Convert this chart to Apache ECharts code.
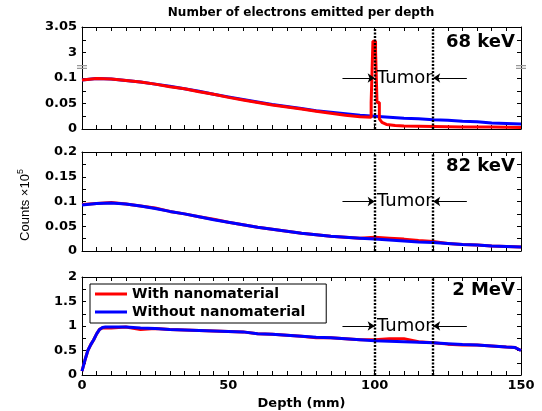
<!DOCTYPE html>
<html><head><meta charset="utf-8">
<script src="https://cdn.jsdelivr.net/npm/echarts@6/dist/echarts.min.js"></script>
<style>html,body{margin:0;padding:0;background:#fff}#c{width:542px;height:411px}</style>
</head><body><div id="c"></div>
<script>
// ---------- data ----------
const depth = [0,5,10,15,20,25,30,35,40,45,50,55,60,65,70,75,80,85,90,95,100,105,110,115,120,125,130,135,140,145,150];

// 68 keV (true values, axis is broken between ~0.12 and ~2.97)
const blue68 = [0.096,0.099,0.098,0.095,0.092,0.088,0.084,0.079,0.074,0.068,0.063,0.058,0.053,0.048,0.044,0.040,0.036,0.033,0.030,0.027,0.025,0.023,0.021,0.020,0.018,0.017,0.015,0.014,0.012,0.011,0.010];
const red68Depth = [0,5,10,15,20,25,30,35,40,45,50,55,60,65,70,75,80,85,90,95,98.8,98.8,99.4,99.4,100.3,100.3,100.8,100.8,101.6,101.6,102.5,104,107,110,120,130,140,150];
const red68 = [0.096,0.099,0.098,0.095,0.092,0.088,0.083,0.079,0.073,0.068,0.062,0.057,0.052,0.047,0.043,0.039,0.035,0.031,0.027,0.024,0.023,0.052,0.052,3.022,3.022,3.005,3.005,0.052,0.052,0.02,0.013,0.009,0.007,0.006,0.005,0.004,0.004,0.003];

// 82 keV
const blue82 = [0.093,0.096,0.097,0.095,0.091,0.086,0.080,0.075,0.069,0.063,0.058,0.053,0.048,0.044,0.040,0.036,0.033,0.030,0.028,0.026,0.024,0.022,0.020,0.018,0.017,0.015,0.013,0.012,0.010,0.009,0.008];
const red82  = [0.094,0.096,0.098,0.095,0.091,0.087,0.080,0.075,0.069,0.064,0.058,0.053,0.048,0.044,0.040,0.036,0.033,0.030,0.028,0.026,0.028,0.026,0.024,0.021,0.019,0.015,0.013,0.012,0.010,0.009,0.008];

// 2 MeV
const depth2 = [0,1,2,3,4,5,6,7,8,10,15,20,25,30,35,40,45,50,55,60,65,70,75,80,85,90,95,100,105,110,115,120,125,130,135,140,145,148,150];
const blue2 = [0.08,0.30,0.50,0.62,0.72,0.84,0.93,0.97,0.98,0.98,0.98,0.96,0.95,0.93,0.92,0.91,0.90,0.89,0.88,0.84,0.83,0.81,0.79,0.77,0.76,0.74,0.72,0.70,0.69,0.68,0.67,0.66,0.64,0.62,0.61,0.59,0.57,0.56,0.50];
const red2  = [0.08,0.30,0.50,0.62,0.72,0.84,0.93,0.96,0.96,0.96,0.98,0.93,0.95,0.93,0.92,0.91,0.90,0.89,0.88,0.84,0.83,0.81,0.79,0.76,0.76,0.74,0.72,0.72,0.74,0.74,0.68,0.66,0.63,0.61,0.61,0.59,0.57,0.56,0.50];

const yTicksTop = ['0','0.05','0.1','3','3.05'];
const panelLabels = ['68 keV','82 keV','2 MeV'];
const names = ['With nanomaterial','Without nanomaterial'];

// broken axis mapping for top panel: values above the break are shifted down
const BREAK_SHIFT = 2.85;
const brk = v => (v > 1 ? v - BREAK_SHIFT : v);

const FONT = 'DejaVu Sans';
const RED = '#ff0000', BLUE = '#0000ff';

const grids = [
  {left:82, right:21, top:27, height:102},
  {left:82, right:21, top:152, height:99},
  {left:82, right:21, top:277, height:99}
];
const yCfg = [
  {max:0.2, interval:0.05, mid:0.1},
  {max:0.2, interval:0.05, mid:0.1},
  {max:2, interval:0.5, mid:1}
];

const tickCommon = {
  axisLine:{show:true, onZero:false, lineStyle:{color:'#000', width:1}},
  axisTick:{show:true, inside:true, length:4, lineStyle:{color:'#000'}},
  minorTick:{show:true, length:4, lineStyle:{color:'#000'}},
  splitLine:{show:false}
};

const xAxes = [], yAxes = [];
grids.forEach((g,i)=>{
  xAxes.push(Object.assign({type:'value', gridIndex:i, min:0, max:150, interval:50, position:'bottom',
    axisLabel:{show:i===2, color:'#000', fontWeight:'bold', fontSize:13, fontFamily:FONT, margin:4},
    name: i===2 ? 'Depth (mm)' : '', nameLocation:'middle', nameGap:22,
    nameTextStyle:{color:'#000', fontWeight:'bold', fontSize:13, fontFamily:FONT}
  }, tickCommon, {minorTick:{show:true, splitNumber:10, length:4, lineStyle:{color:'#000'}}}));
  xAxes.push(Object.assign({type:'value', gridIndex:i, min:0, max:150, interval:50, position:'top',
    axisLabel:{show:false}}, tickCommon, {minorTick:{show:true, splitNumber:10, length:4, lineStyle:{color:'#000'}}}));
  const yc = yCfg[i];
  yAxes.push(Object.assign({type:'value', gridIndex:i, min:0, max:yc.max, interval:yc.interval, position:'left',
    axisLabel:{show:true, color:'#000', fontWeight:'bold', fontSize:13, fontFamily:FONT, margin:5,
      formatter: i===0 ? (v => yTicksTop[Math.round(v/0.05)]) : (v => String(v))}
  }, tickCommon, {minorTick:{show:true, splitNumber:2, length:4, lineStyle:{color:'#000'}}}));
  yAxes.push(Object.assign({type:'value', gridIndex:i, min:0, max:yc.max, interval:yc.interval, position:'right',
    axisLabel:{show:false}}, tickCommon, {minorTick:{show:true, splitNumber:2, length:4, lineStyle:{color:'#000'}}}));
});

function decorations(i){
  const m = yCfg[i].mid;
  const vline = {lineStyle:{color:'#000', width:2.4, type:[2,1.5]}};
  const arrow = {lineStyle:{color:'#000', width:1, type:'solid'}};
  return {
    markLine:{silent:true, animation:false, symbol:['none','none'], symbolSize:7, label:{show:false},
      data:[
        Object.assign({xAxis:100}, vline),
        Object.assign({xAxis:120}, vline),
        [Object.assign({coord:[89,m], symbol:'none'}, arrow), {coord:[100,m], symbol:'arrow', symbolSize:7}],
        [Object.assign({coord:[131.5,m], symbol:'none'}, arrow), {coord:[120,m], symbol:'arrow', symbolSize:7}]
      ]},
    markPoint:{silent:true, animation:false,
      data:[{coord:[110.3,m], symbol:'circle', symbolSize:0,
        label:{show:true, position:'inside', formatter:'Tumor', color:'#000', fontSize:18, fontFamily:FONT}}]
        .concat(i===0 ? [0,150].map(x=>({coord:[x,0.1215], symbol:'path://M0,0H10V1.3H0Z M0,3H10V4.3H0Z',
          symbolSize:[10,4], itemStyle:{color:'#999'}, label:{show:false}})) : [])
    }
  };
}

function lineSeries(name, color, i, data, deco){
  return Object.assign({type:'line', name, xAxisIndex:2*i, yAxisIndex:2*i, data, showSymbol:false, symbol:'none',
    lineStyle:{color, width:3}, itemStyle:{color}, clip:true, animation:false, z: color===BLUE?3:2}, deco||{});
}

const series = [
  lineSeries(names[0], RED, 0, red68Depth.map((d,k)=>[d, brk(red68[k])])),
  lineSeries(names[1], BLUE, 0, depth.map((d,k)=>[d, brk(blue68[k])]), decorations(0)),
  lineSeries(names[0], RED, 1, depth.map((d,k)=>[d, red82[k]])),
  lineSeries(names[1], BLUE, 1, depth.map((d,k)=>[d, blue82[k]]), decorations(1)),
  lineSeries(names[0], RED, 2, depth2.map((d,k)=>[d, red2[k]])),
  lineSeries(names[1], BLUE, 2, depth2.map((d,k)=>[d, blue2[k]]), decorations(2))
];
series[0].z = 4;

const labelY = [42, 166, 290];
const graphic = [
  {type:'text', x:301, y:13, style:{text:'Number of electrons emitted per depth', fill:'#000',
    font:'bold 12px "DejaVu Sans"', textAlign:'center', textVerticalAlign:'middle'}},
  {type:'text', x:24, y:205, rotation:Math.PI/2, style:{text:'{a|Counts ×10}{b|5}', fill:'#000',
    textAlign:'center', textVerticalAlign:'middle',
    rich:{a:{fontSize:13, fontFamily:'Liberation Sans', lineHeight:16, verticalAlign:'bottom', fill:'#000'},
          b:{fontSize:9, fontFamily:'Liberation Sans', lineHeight:16, verticalAlign:'top', fill:'#000'}}}}
].concat(panelLabels.map((t,i)=>({type:'text', x:515, y:labelY[i], z:10, style:{text:t, fill:'#000',
    font:'bold 18px "DejaVu Sans"', textAlign:'right', textVerticalAlign:'middle'}})));

const chart = echarts.init(document.getElementById('c'), null, {renderer:'canvas'});
chart.setOption({
  animation:false,
  backgroundColor:'#fff',
  grid: grids,
  xAxis: xAxes,
  yAxis: yAxes,
  legend:{orient:'vertical', left:90, top:284, padding:[3,21,4,5],
    data:[{name:names[0], icon:'rect', itemStyle:{color:RED}}, {name:names[1], icon:'rect', itemStyle:{color:BLUE}}],
    itemWidth:32, itemHeight:3, itemGap:4, backgroundColor:'#fff', borderColor:'#000', borderWidth:1,
    selectedMode:false, z:20,
    textStyle:{color:'#000', fontSize:14, fontWeight:'bold', fontFamily:FONT}},
  graphic,
  series
});
</script></body></html>
